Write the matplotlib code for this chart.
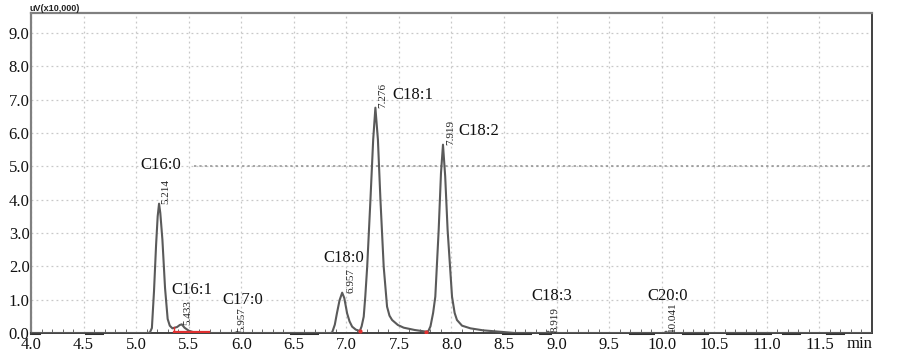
import numpy as np
import matplotlib.pyplot as plt

# chromatogram trace (min, uV x10,000)
time = [4.00, 5.10, 5.13, 5.15, 5.17, 5.19, 5.205, 5.218, 5.23, 5.25, 5.275,
        5.30, 5.32, 5.345, 5.39, 5.415, 5.434, 5.46, 5.50, 5.55, 5.60,
        5.93, 5.95, 5.957, 5.965, 5.99,
        6.85, 6.865, 6.89, 6.91, 6.935, 6.96, 6.98, 7.007, 7.03, 7.055, 7.09,
        7.128, 7.145, 7.165, 7.18, 7.198, 7.229, 7.255, 7.276, 7.30, 7.324,
        7.355, 7.387, 7.41, 7.435, 7.49, 7.545, 7.65, 7.76, 7.78, 7.80, 7.825,
        7.846, 7.878, 7.90, 7.919, 7.94, 7.963, 8.005, 8.03, 8.052, 8.10, 8.18,
        8.30, 8.49, 8.60, 8.90, 8.912, 8.919, 8.926, 8.94,
        10.02, 10.034, 10.041, 10.048, 10.06, 12.00]
signal = [0.0, 0.0, 0.01, 0.15, 1.25, 2.65, 3.5, 3.88, 3.6, 2.8, 1.35,
          0.42, 0.22, 0.14, 0.18, 0.24, 0.26, 0.16, 0.07, 0.02, 0.0,
          0.0, 0.01, 0.03, 0.01, 0.0,
          0.0, 0.02, 0.25, 0.59, 0.98, 1.21, 1.05, 0.59, 0.35, 0.19, 0.10,
          0.06, 0.2, 0.49, 1.1, 1.99, 4.0, 5.8, 6.76, 5.8, 4.0,
          1.99, 0.79, 0.52, 0.39, 0.24, 0.16, 0.09, 0.04, 0.06, 0.2, 0.6,
          1.09, 3.09, 4.8, 5.65, 4.7, 3.09, 1.09, 0.6, 0.39, 0.22, 0.14,
          0.08, 0.03, 0.0, 0.0, 0.02, 0.04, 0.02, 0.0,
          0.0, 0.02, 0.04, 0.02, 0.0, 0.0]

# peak annotations
peak_names = ['C16:0', 'C16:1', 'C17:0', 'C18:0', 'C18:1', 'C18:2', 'C18:3', 'C20:0']
name_x = [5.235, 5.534, 6.018, 6.972, 7.632, 8.259, 8.957, 10.059]
name_y = [5.05, 1.29, 0.99, 2.25, 7.15, 6.07, 1.11, 1.11]
peak_rt = ['5.214', '5.433', '5.957', '6.957', '7.276', '7.919', '8.919', '10.041']
rt_x = [5.282, 5.496, 6.004, 7.04, 7.343, 7.993, 8.985, 10.106]
rt_y = [3.88, 0.24, 0.03, 1.2, 6.76, 5.65, 0.03, 0.03]

# darker baseline stretches and integration marks
base_segments = [(4.0, 4.08), (4.52, 4.68), (6.47, 6.72), (8.49, 8.75), (8.84, 8.94),
                 (9.70, 9.92), (10.2, 10.43), (10.62, 11.03), (11.15, 11.31), (11.57, 11.72)]
red_segment = (5.36, 5.69)
red_points = [7.128, 7.76]

x_ticks = [4.0, 4.5, 5.0, 5.5, 6.0, 6.5, 7.0, 7.5, 8.0, 8.5, 9.0, 9.5, 10.0, 10.5, 11.0, 11.5]
y_ticks = [0, 1, 2, 3, 4, 5, 6, 7, 8, 9]

serif = 'Liberation Serif'

fig = plt.figure(figsize=(9.03, 3.55), dpi=100)
ax = fig.add_axes([31 / 903, 22 / 355, 841 / 903, 320 / 355])

ax.set_xlim(4.0, 12.0)
ax.set_ylim(0, 9.6)

# grid
for xv in x_ticks:
    ax.axvline(xv, color='#c8c8c8', lw=0.9, ls=(0, (1.5, 2.5)), zorder=0)
for yv in y_ticks[1:]:
    ax.axhline(yv, color='#c8c8c8', lw=0.9, ls=(0, (1.5, 2.5)), zorder=0)
ax.hlines(5.0, 5.55, 12.0, color='#909090', lw=1.1, ls=(0, (1.5, 2.0)), zorder=1)

for a, b in base_segments:
    ax.plot([a, b], [0.0, 0.0], color='#303030', lw=2.2, zorder=2, clip_on=False)

ax.plot(time, signal, color='#5a5a5a', lw=1.5, zorder=3)

ax.plot(red_segment, [0.02, 0.02], color='#e03030', lw=1.6, zorder=4)
ax.plot([red_segment[0], red_segment[0]], [0.0, 0.18], color='#e03030', lw=1.0, zorder=4)
ax.plot(red_points, [0.06, 0.04], ls='none', marker='o', ms=2, color='#e03030', zorder=4)

for name, x, y in zip(peak_names, name_x, name_y):
    ax.text(x, y, name, ha='center', va='center', fontsize=12, family=serif, color='#111111')
for rt, x, y in zip(peak_rt, rt_x, rt_y):
    ax.text(x, y, rt, rotation=90, ha='center', va='bottom', fontsize=8,
            family=serif, color='#222222')

ax.set_xticks(x_ticks)
ax.set_xticklabels([f'{v:.1f}' for v in x_ticks])
ax.set_yticks(y_ticks)
ax.set_yticklabels([f'{v:.1f}' for v in y_ticks])
ax.tick_params(axis='both', length=0, labelsize=12, colors='#111111', pad=3)
ax.tick_params(axis='y', pad=1)
for lab in ax.get_xticklabels() + ax.get_yticklabels():
    lab.set_family(serif)
ax.set_xticks(np.arange(4.0, 12.0, 0.1), minor=True)
ax.tick_params(axis='x', which='minor', direction='in', length=3, color='#505050')

for side in ['top', 'left']:
    ax.spines[side].set_color('#808080')
    ax.spines[side].set_linewidth(1.6)
for side in ['bottom', 'right']:
    ax.spines[side].set_color('#404040')
    ax.spines[side].set_linewidth(1.4)

ax.text(0.985, -3 / 320, 'min', transform=ax.transAxes, ha='center', va='top',
        fontsize=12, family=serif, color='#111111')
fig.text(30 / 903, 1 - 11 / 355, 'uV(x10,000)', ha='left', va='baseline',
         fontsize=6.5, fontweight='bold', family='Liberation Sans', color='#222222')

fig.savefig('out.png', dpi=100)
